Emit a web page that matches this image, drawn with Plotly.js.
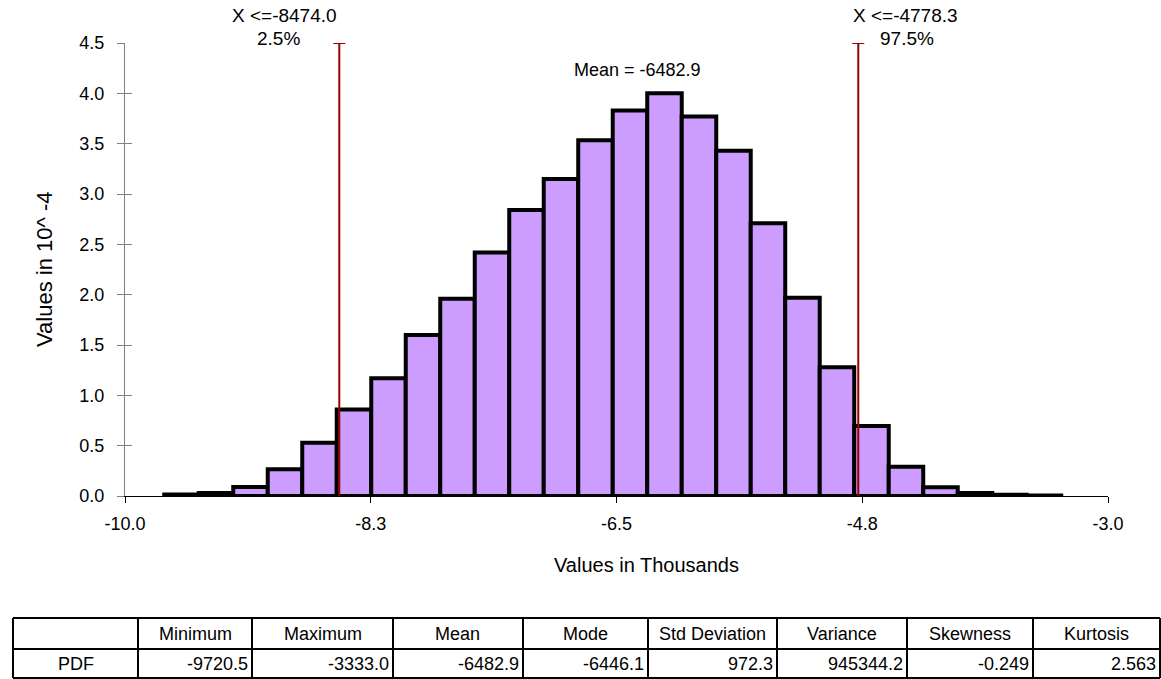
<!DOCTYPE html>
<html><head><meta charset="utf-8">
<script src="https://cdn.plot.ly/plotly-3.0.1.min.js"></script>
<style>html,body{margin:0;padding:0;background:#fff}</style>
</head><body><div id="chart" style="width:1161px;height:679px"></div>
<script>
// ---- data (x in thousands, density in 10^-4) ----
const binMin = -9.7205;
const binMax = -3.3330;
const density = [0.015,0.03,0.09,0.265,0.53,0.86,1.17,1.60,1.96,2.42,2.84,3.15,3.535,3.83,4.00,3.77,3.43,2.71,1.97,1.28,0.695,0.29,0.086,0.03,0.012,0.006];
const xTickVals = [-10,-8.25,-6.5,-4.75,-3];
const xTickText = ['-10.0','-8.3','-6.5','-4.8','-3.0'];
const yTickVals = [0,0.5,1,1.5,2,2.5,3,3.5,4,4.5];
const yTickText = ['0.0','0.5','1.0','1.5','2.0','2.5','3.0','3.5','4.0','4.5'];
const pctValues = [-8.4740, -4.7783];
const pctLabels = ['X &lt;=-8474.0','X &lt;=-4778.3'];
const pctProbs = ['2.5%','97.5%'];
const meanValue = -6.4829;
const meanLabel = 'Mean = -6482.9';
const tableHeader = ['', 'Minimum','Maximum','Mean','Mode','Std Deviation','Variance','Skewness','Kurtosis'];
const tableRow = ['PDF','-9720.5','-3333.0','-6482.9','-6446.1','972.3','945344.2','-0.249','2.563'];

// ---- layout helpers ----
const W = 1161, H = 679;
const px = v => v / W, py = v => 1 - v / H;
const FONT = 'Arial, "Liberation Sans", sans-serif';
const yMax = 4.5;
const tableEdges = [13,138,252,393,523,648,777,907,1033,1160];
const tableRowsY = [618, 649, 678];

// ---- derived ----
const nBins = density.length;
const binW = (binMax - binMin) / nBins;
const centers = density.map((_, i) => binMin + binW * (i + 0.5));

const traces = [
  {
    type: 'bar', x: centers, y: density, width: binW,
    marker: {color: '#CC9CFF', line: {color: '#000', width: 4}},
    xaxis: 'x', yaxis: 'y', hoverinfo: 'skip', showlegend: false
  },
  {
    type: 'scatter', mode: 'markers', x: [binMin], y: [0],
    marker: {size: 1, opacity: 0}, xaxis: 'x2', yaxis: 'y2',
    hoverinfo: 'skip', showlegend: false
  }
];

const dom = {x: [px(125), px(1108)], y: [py(496), py(43)]};
const baseX = {domain: dom.x, range: [-10, -3], tickvals: xTickVals, ticktext: xTickText};
const baseY = {domain: dom.y, range: [0, yMax], tickvals: yTickVals, ticktext: yTickText};

const shapes = [];
pctValues.forEach(v => {
  shapes.push({type: 'line', xref: 'x', yref: 'y', x0: v, x1: v, y0: 0, y1: yMax,
    line: {color: '#990000', width: 2}});
  shapes.push({type: 'line', xref: 'x', yref: 'y', xsizemode: 'pixel', xanchor: v,
    x0: -6, x1: 6, y0: yMax, y1: yMax, line: {color: '#990000', width: 2}});
});

const annFont = {family: FONT, size: 19, color: '#000'};
const meanFont = {family: FONT, size: 18, color: '#000'};
const annotations = [
  {xref: 'x', yref: 'paper', x: pctValues[0], y: py(15), xanchor: 'right', yanchor: 'middle', xshift: 0, text: pctLabels[0], showarrow: false, font: annFont},
  {xref: 'x', yref: 'paper', x: pctValues[0], y: py(38), xanchor: 'right', yanchor: 'middle', xshift: -37, text: pctProbs[0], showarrow: false, font: annFont},
  {xref: 'x', yref: 'paper', x: pctValues[1], y: py(15), xanchor: 'left', yanchor: 'middle', xshift: -7, text: pctLabels[1], showarrow: false, font: annFont},
  {xref: 'x', yref: 'paper', x: pctValues[1], y: py(38), xanchor: 'left', yanchor: 'middle', xshift: 20, text: pctProbs[1], showarrow: false, font: annFont},
  {xref: 'x', yref: 'paper', x: meanValue, y: py(70), xanchor: 'center', yanchor: 'middle', xshift: 19, text: meanLabel, showarrow: false, font: meanFont},
  {xref: 'paper', yref: 'paper', x: px(646), y: py(565), xanchor: 'center', yanchor: 'middle', text: 'Values in Thousands', showarrow: false, font: {family: FONT, size: 20, color: '#000'}},
  {xref: 'paper', yref: 'paper', x: px(45), y: py(270), xanchor: 'center', yanchor: 'middle', textangle: -90, text: 'Values in 10^ -4', showarrow: false, font: {family: FONT, size: 22, color: '#000'}}
];

// ---- table drawn from the header/row arrays ----
const tFont = {family: FONT, size: 18, color: '#000'};
tableRowsY.forEach(y => shapes.push({type: 'line', xref: 'paper', yref: 'paper',
  x0: px(tableEdges[0]), x1: px(tableEdges[tableEdges.length - 1]), y0: py(y), y1: py(y),
  line: {color: '#000', width: 2}}));
tableEdges.forEach(x => shapes.push({type: 'line', xref: 'paper', yref: 'paper',
  x0: px(x), x1: px(x), y0: py(tableRowsY[0]), y1: py(tableRowsY[2]),
  line: {color: '#000', width: 2}}));
tableHeader.forEach((h, i) => {
  if (!h) return;
  annotations.push({xref: 'paper', yref: 'paper', x: px((tableEdges[i] + tableEdges[i + 1]) / 2),
    y: py((tableRowsY[0] + tableRowsY[1]) / 2), xanchor: 'center', yanchor: 'middle',
    text: h, showarrow: false, font: tFont});
});
tableRow.forEach((v, i) => {
  const first = i === 0;
  annotations.push({xref: 'paper', yref: 'paper',
    x: px(first ? (tableEdges[i] + tableEdges[i + 1]) / 2 : tableEdges[i + 1] - 2),
    y: py((tableRowsY[1] + tableRowsY[2]) / 2), xanchor: first ? 'center' : 'right', yanchor: 'middle',
    text: v, showarrow: false, font: tFont});
});

const tickFont = {family: FONT, size: 18, color: '#000'};
const layout = {
  width: W, height: H, autosize: false,
  margin: {l: 0, r: 0, t: 0, b: 0, pad: 0},
  paper_bgcolor: '#fff', plot_bgcolor: 'rgba(0,0,0,0)',
  showlegend: false, bargap: 0,
  font: {family: FONT, size: 18, color: '#000'},
  xaxis: Object.assign({}, baseX, {
    anchor: 'y', ticks: 'inside', ticklen: 6, tickcolor: '#000', tickwidth: 1,
    showticklabels: false, showgrid: false, zeroline: false, showline: false,
    layer: 'below traces', fixedrange: true
  }),
  yaxis: Object.assign({}, baseY, {
    anchor: 'x', ticks: 'inside', ticklen: 7, tickcolor: '#808080', tickwidth: 1,
    showticklabels: false, showgrid: false, zeroline: false, showline: false,
    layer: 'below traces', fixedrange: true
  }),
  xaxis2: Object.assign({}, baseX, {
    overlaying: 'x', anchor: 'y2', side: 'bottom', ticks: 'outside', ticklen: 6, tickcolor: '#000', tickwidth: 1,
    showticklabels: true, tickfont: tickFont, ticklabelstandoff: 5,
    showgrid: false, zeroline: false, showline: true, linecolor: '#000', linewidth: 1,
    fixedrange: true
  }),
  yaxis2: Object.assign({}, baseY, {
    overlaying: 'y', anchor: 'x2', side: 'left', ticks: 'outside', ticklen: 7, tickcolor: '#808080', tickwidth: 1,
    showticklabels: true, tickfont: tickFont, ticklabelstandoff: 9,
    showgrid: false, zeroline: false, showline: true, linecolor: '#808080', linewidth: 1,
    fixedrange: true
  }),
  shapes: shapes,
  annotations: annotations
};

Plotly.newPlot('chart', traces, layout, {displayModeBar: false, staticPlot: true});
</script>
</body></html>
